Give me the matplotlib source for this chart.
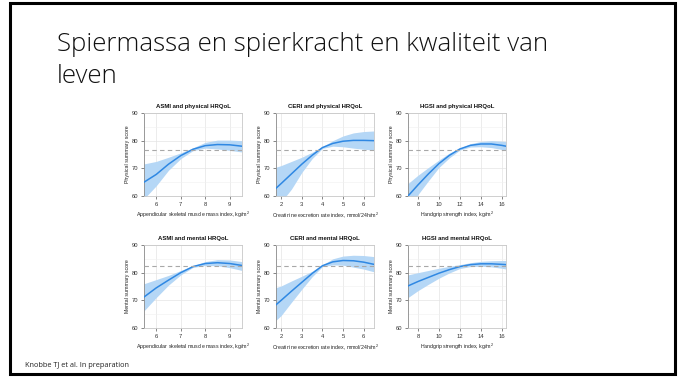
import numpy as np
import matplotlib
matplotlib.use("Agg")
from matplotlib import pyplot as plt
from matplotlib.patches import Rectangle

# Spline estimates per exposure: x grid, estimate, lower/upper 95% CI
ASMI_X = [5.5, 6.0, 6.5, 7.0, 7.5, 8.0, 8.5, 9.0, 9.5]
CERI_X = [1.75, 2.0, 2.5, 3.0, 3.5, 4.0, 4.5, 5.0, 5.5, 6.0, 6.5]
HGSI_X = [7.05, 8.0, 9.0, 10.0, 11.0, 12.0, 13.0, 14.0, 15.0, 16.0, 16.4]

ASMI_PHYS = [65.0, 67.8, 71.5, 74.6, 76.9, 78.2, 78.6, 78.5, 78.0]
ASMI_PHYS_LO = [59.0, 63.7, 69.3, 73.5, 76.4, 77.3, 77.0, 76.5, 75.9]
ASMI_PHYS_HI = [71.6, 72.5, 74.0, 75.6, 77.4, 79.4, 80.2, 80.2, 80.0]

CERI_PHYS = [62.8, 64.5, 68.0, 71.5, 74.7, 77.5, 79.0, 79.8, 80.1, 80.1, 80.0]
CERI_PHYS_LO = [55.5, 57.8, 62.5, 68.5, 73.5, 77.2, 78.0, 77.8, 77.3, 76.9, 76.6]
CERI_PHYS_HI = [70.4, 71.0, 72.5, 74.0, 75.8, 77.8, 80.0, 81.7, 82.8, 83.3, 83.5]

HGSI_PHYS = [60.0, 64.0, 68.0, 71.7, 74.7, 77.0, 78.3, 78.8, 78.8, 78.3, 78.0]
HGSI_PHYS_LO = [55.0, 60.5, 65.5, 70.3, 73.8, 76.6, 77.7, 77.8, 77.5, 76.8, 76.5]
HGSI_PHYS_HI = [64.5, 67.5, 70.3, 73.0, 75.5, 77.3, 78.9, 79.7, 80.0, 79.8, 79.7]

ASMI_MENT = [71.2, 74.5, 77.3, 80.0, 82.2, 83.3, 83.6, 83.3, 82.6]
ASMI_MENT_LO = [66.2, 71.0, 75.5, 79.2, 81.9, 82.6, 82.5, 81.8, 80.8]
ASMI_MENT_HI = [76.0, 77.5, 79.0, 80.8, 82.5, 84.0, 84.7, 84.6, 84.0]

CERI_MENT = [68.4, 70.0, 73.3, 76.5, 79.7, 82.5, 83.9, 84.4, 84.3, 83.8, 83.0]
CERI_MENT_LO = [62.8, 64.5, 69.3, 74.0, 78.5, 82.2, 82.8, 82.7, 82.0, 81.3, 80.3]
CERI_MENT_HI = [74.6, 75.2, 77.0, 78.7, 80.5, 82.8, 85.0, 86.0, 86.3, 86.2, 85.8]

HGSI_MENT = [75.2, 76.8, 78.3, 79.8, 81.1, 82.2, 82.9, 83.2, 83.2, 83.0, 82.9]
HGSI_MENT_LO = [71.0, 73.5, 75.8, 78.0, 79.9, 81.5, 82.2, 82.3, 82.1, 81.6, 81.3]
HGSI_MENT_HI = [79.2, 80.0, 80.8, 81.6, 82.3, 82.9, 83.6, 84.1, 84.3, 84.4, 84.4]

# Population mean reference lines
PHYS_MEAN = 76.8
MENT_MEAN = 82.3

TITLES = [
    ["ASMI and physical HRQoL", "CERI and physical HRQoL", "HGSI and physical HRQoL"],
    ["ASMI and mental HRQoL", "CERI and mental HRQoL", "HGSI and mental HRQoL"],
]
XLABELS = [
    "Appendicular skeletal muscle mass index, kg/m$^2$",
    "Creatinine excretion rate index, mmol/24h/m$^2$",
    "Handgrip strength index, kg/m$^2$",
]
YLABELS = ["Physical summary score", "Mental summary score"]
XLIMS = [(5.5, 9.5), (1.75, 6.5), (7.05, 16.4)]
XTICKS = [[6, 7, 8, 9], [2, 3, 4, 5, 6], [8, 10, 12, 14, 16]]
YTICKS = [60, 70, 80, 90]

XS = [ASMI_X, CERI_X, HGSI_X]
EST = [[ASMI_PHYS, CERI_PHYS, HGSI_PHYS], [ASMI_MENT, CERI_MENT, HGSI_MENT]]
LO = [[ASMI_PHYS_LO, CERI_PHYS_LO, HGSI_PHYS_LO], [ASMI_MENT_LO, CERI_MENT_LO, HGSI_MENT_LO]]
HI = [[ASMI_PHYS_HI, CERI_PHYS_HI, HGSI_PHYS_HI], [ASMI_MENT_HI, CERI_MENT_HI, HGSI_MENT_HI]]
MEANS = [PHYS_MEAN, MENT_MEAN]

LINE_COLOR = "#2f88e3"
BAND_COLOR = "#b5d7f6"

plt.rcParams["font.family"] = ["Liberation Sans", "DejaVu Sans"]
plt.rcParams["mathtext.fontset"] = "custom"
plt.rcParams["mathtext.rm"] = "Liberation Sans"

W, H = 684, 378
fig = plt.figure(figsize=(W / 100, H / 100), dpi=100)
fig.patch.set_facecolor("white")

# slide frame
fig.add_artist(Rectangle((10 / W, 1 - 374 / H), 665 / W, 371 / H, transform=fig.transFigure,
                         fill=False, edgecolor="black", linewidth=2.2))

slide_font = dict(family="Open Sans", fontweight="light", color="#111111",
                  fontsize=18.6, ha="left", va="baseline")
fig.text(57 / W, 1 - 51 / H, "Spiermassa en spierkracht en kwaliteit van", **slide_font)
fig.text(57 / W, 1 - 83 / H, "leven", **slide_font)
fig.text(25 / W, 1 - 367 / H, "Knobbe TJ et al. In preparation",
         fontsize=5.3, family="Open Sans", color="#222222", ha="left", va="baseline")

lefts = [144, 276, 408]
tops = [113, 245]
ax_w, ax_h = 98, 83

for r in range(2):
    for c in range(3):
        ax = fig.add_axes([lefts[c] / W, 1 - (tops[r] + ax_h) / H, ax_w / W, ax_h / H])
        x = np.array(XS[c])
        ax.fill_between(x, LO[r][c], HI[r][c], color=BAND_COLOR, linewidth=0, zorder=2)
        ax.plot(x, EST[r][c], color=LINE_COLOR, linewidth=1.1, zorder=3)
        ax.axhline(MEANS[r], color="#a8a8a8", linestyle=(0, (4, 3)), linewidth=0.8, zorder=4)

        ax.set_xlim(*XLIMS[c])
        ax.set_ylim(60, 90)
        ax.set_xticks(XTICKS[c])
        ax.set_yticks(YTICKS)
        ax.set_yticks([65, 75, 85], minor=True)
        ax.grid(True, which="major", color="#e4e4e4", linewidth=0.5, zorder=0)
        ax.grid(True, which="minor", axis="y", color="#f0f0f0", linewidth=0.4, zorder=0)
        ax.set_axisbelow(True)
        ax.tick_params(which="minor", length=0)
        ax.tick_params(which="major", labelsize=4.2, length=2, width=0.5,
                       color="#555555", pad=2, labelcolor="#333333")
        for side in ("top", "right", "bottom"):
            ax.spines[side].set_color("#c8c8c8")
            ax.spines[side].set_linewidth(0.6)
        ax.spines["left"].set_color("#888888")
        ax.spines["left"].set_linewidth(0.6)

        ax.set_title(TITLES[r][c], fontsize=4.3, fontweight="bold", pad=3.5, color="#111111")
        ax.set_xlabel(XLABELS[c], fontsize=3.8, labelpad=2.5, color="#222222")
        ax.set_ylabel(YLABELS[r], fontsize=3.8, labelpad=1.5, color="#222222")

fig.savefig("out.png", dpi=100)
plt.close(fig)
